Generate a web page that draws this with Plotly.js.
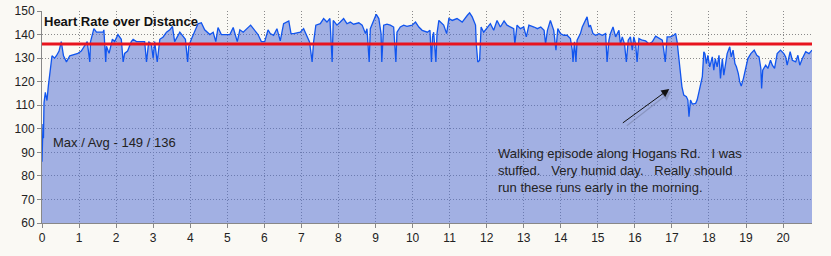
<!DOCTYPE html>
<html>
<head>
<meta charset="utf-8">
<script src="https://cdn.plot.ly/plotly-3.0.1.min.js"></script>
<style>
  html, body { margin: 0; padding: 0; background: #FAF9F4; }
  #chart { width: 831px; height: 256px; }
</style>
</head>
<body>
<div id="chart"></div>
<script>
// Distance (km) and heart rate (bpm)
const dist = [
  0, 0.015, 0.027, 0.04, 0.054, 0.09, 0.135, 0.17, 0.207, 0.27, 0.34, 0.39, 0.46, 0.52, 0.58, 0.66, 0.75, 0.97,
  1.06, 1.15, 1.22, 1.29, 1.31, 1.40, 1.47, 1.65, 1.67, 1.72, 1.74, 1.81, 1.90, 1.96,
  2.05, 2.14, 2.19, 2.23, 2.31, 2.41, 2.46, 2.55, 2.68, 2.77, 2.82, 2.88, 2.95,
  3.00, 3.04, 3.11, 3.18, 3.27, 3.36, 3.45, 3.52, 3.58, 3.72, 3.81, 3.87, 3.93, 3.96,
  4.03, 4.12, 4.21, 4.30, 4.39, 4.53, 4.62, 4.69, 4.75, 4.84, 4.98,
  5.07, 5.16, 5.27, 5.34, 5.43, 5.63, 5.72, 5.83, 5.92,
  6.01, 6.10, 6.16, 6.25, 6.34, 6.43, 6.52, 6.66, 6.72, 6.79, 6.97,
  7.06, 7.15, 7.22, 7.29, 7.33, 7.39, 7.51, 7.60, 7.69, 7.77, 7.81, 7.83, 7.86, 7.96,
  8.05, 8.14, 8.23, 8.32, 8.41, 8.55, 8.64, 8.73, 8.77, 8.80, 8.83, 8.86, 8.95,
  9.02, 9.09, 9.15, 9.17, 9.22, 9.31, 9.40, 9.49, 9.55, 9.58, 9.67, 9.76, 9.85, 9.99,
  10.08, 10.17, 10.26, 10.40, 10.47, 10.51, 10.54, 10.57, 10.63, 10.66, 10.71, 10.84, 10.92, 10.98,
  11.07, 11.20, 11.34, 11.48, 11.54, 11.61, 11.70, 11.72, 11.76, 11.81, 11.85, 11.92,
  12.02, 12.10, 12.19, 12.28, 12.37, 12.47, 12.55, 12.64, 12.73, 12.76, 12.82, 12.91,
  13.00, 13.07, 13.14, 13.28, 13.37, 13.46, 13.55, 13.59, 13.64, 13.72, 13.81, 13.87, 13.92, 13.99,
  14.08, 14.17, 14.26, 14.31, 14.33, 14.37, 14.41, 14.44, 14.53, 14.58, 14.62, 14.68, 14.71, 14.76, 14.80, 14.87, 14.94,
  15.03, 15.12, 15.21, 15.25, 15.30, 15.34, 15.41, 15.48, 15.57, 15.61, 15.66, 15.72, 15.77, 15.82, 15.88, 15.93, 15.97,
  16.02, 16.06, 16.11, 16.20, 16.29, 16.38, 16.47, 16.56, 16.65, 16.74, 16.78, 16.82, 16.87, 16.96,
  17.05, 17.10, 17.14, 17.18, 17.23, 17.27, 17.32, 17.39, 17.43, 17.46, 17.50, 17.55, 17.64, 17.68, 17.73, 17.77, 17.82, 17.86, 17.89, 17.93, 17.97,
  18.02, 18.09, 18.13, 18.17, 18.22, 18.27, 18.31, 18.36, 18.40, 18.45, 18.49, 18.56, 18.60, 18.65, 18.70, 18.74, 18.79, 18.83, 18.87, 18.93, 18.99,
  19.05, 19.13, 19.22, 19.29, 19.35, 19.40, 19.42, 19.45, 19.53, 19.59, 19.66, 19.71, 19.77, 19.84, 19.93,
  20.02, 20.07, 20.11, 20.19, 20.25, 20.34, 20.40, 20.45, 20.52, 20.61, 20.70, 20.78
];
const hr = [
  86, 100, 102, 96, 111, 115.5, 112, 118, 124, 131, 130, 131, 133, 137, 131, 128.4, 131, 132,
  133, 135, 137, 128.4, 137, 142.5, 141, 141, 142, 128.4, 135, 132, 138, 137,
  140, 138, 128.4, 132, 133, 137, 138, 137, 137, 137, 128.4, 137, 136,
  130, 137, 128.4, 138, 139, 141, 142, 143.5, 137, 141, 139, 138, 128.4, 135,
  138, 141, 144.6, 145, 142, 140, 141, 137, 143, 140, 140,
  140, 143, 137, 142, 141, 144, 142, 140, 137,
  137, 142, 140.4, 139.7, 142.5, 137.3, 144.6, 145.8, 140.4, 140.4, 141,
  142.5, 139.7, 136.9, 128.4, 136.9, 144, 144.6, 146.8, 145.3, 146.8, 136, 128.4, 146, 144,
  145.3, 146.8, 144.6, 145.3, 144.4, 145, 144, 140.4, 142.5, 134.8, 128.4, 142.5, 146,
  148.6, 146.8, 140.4, 128.4, 144, 144.4, 144, 143.2, 128.4, 141, 143.2, 144, 143.5, 144,
  145.3, 143.2, 141.8, 141, 141.8, 128.4, 139, 141, 128.4, 140.4, 146, 144, 140.4, 146.8,
  146, 146.8, 145.3, 148.2, 149.2, 147.5, 144, 136, 128.4, 129, 143.2, 141,
  143.2, 144.6, 141.8, 146, 143.2, 145.8, 144, 143.2, 142.5, 136, 144, 142.5,
  143.2, 139, 144, 143.2, 142.5, 143.2, 141.8, 136, 141.8, 146, 141.8, 133.4, 142.5, 140.4,
  139.7, 139.7, 138.3, 133.4, 128.4, 136.9, 128.4, 137.6, 140.4, 143.2, 144.6, 146.8, 147.5, 143.2, 144, 140.4, 139.7,
  140.4, 139.7, 140.4, 128.4, 137.6, 140.4, 143.2, 139, 141.8, 136, 139, 136, 128.4, 137.6, 139, 133.4, 139,
  136, 128.4, 138.3, 137.6, 137.3, 136, 136.9, 139.3, 138.3, 137.6, 133.4, 128.4, 139, 139,
  139.7, 140.4, 136.9, 130.5, 123.5, 117.8, 114.3, 113.6, 112.2, 105.1, 112.2, 110.5, 110.8, 112.2, 115.7, 119.3, 122.1, 132.7, 131.9, 127.7, 131.2,
  126.3, 130.5, 124.9, 129.8, 126.3, 131.2, 121.4, 129.8, 122.8, 129.1, 131.9, 134.8, 130.5, 133.4, 127.7, 126.3, 123.5, 120, 118.1, 121.4, 126.3,
  129.8, 131.9, 133.4, 131.2, 130.5, 125.6, 117.1, 124.9, 127, 125.6, 129.1, 127, 125.6, 131.9, 133.4,
  131.9, 130.5, 127, 132.7, 129.1, 128.4, 131.2, 127, 129.8, 132.7, 131.9, 133.4
];
const maxHR = 149;
const avgHR = 136;
const xRange = [0, 20.78];
const yRange = [60, 150];
const chartTitle = "Heart Rate over Distance";
const statsLabel = "Max / Avg - " + maxHR + " / " + avgHR;
const noteLines = [
  "Walking episode along Hogans Rd.\u00a0\u00a0 I was",
  "stuffed.\u00a0\u00a0 Very humid day.\u00a0\u00a0 Really should",
  "run these runs early in the morning."
];
const arrowTip = { x: 16.93, y: 116.9 };

const font = "Arial, 'Liberation Sans', sans-serif";
const bg = "#FAF9F4";

const trace = {
  x: dist, y: hr, type: "scatter", mode: "lines",
  fill: "tozeroy",
  fillcolor: "rgba(80,110,210,0.52)",
  line: { color: "#1155EE", width: 1.3 },
  hoverinfo: "skip"
};

const axisCommon = {
  showgrid: true, gridcolor: "#8a8a8a", griddash: "1px,2px", gridwidth: 1,
  showline: true, linecolor: "#888888", linewidth: 1,
  ticks: "outside", ticklen: 4, tickcolor: "#888888", tickwidth: 1,
  zeroline: false,
  tickfont: { family: font, size: 12, color: "#222222" },
  fixedrange: true
};

const layout = {
  width: 831, height: 256,
  margin: { l: 42, r: 19, t: 11, b: 33, pad: 0 },
  paper_bgcolor: bg, plot_bgcolor: bg,
  showlegend: false,
  xaxis: Object.assign({}, axisCommon, { range: xRange, tick0: 0, dtick: 1 }),
  yaxis: Object.assign({}, axisCommon, { range: yRange, tick0: 60, dtick: 10 }),
  shapes: [{
    type: "line", xref: "paper", x0: 0, x1: 1, yref: "y", y0: avgHR, y1: avgHR,
    line: { color: "#E8141E", width: 3 }, layer: "above"
  }],
  annotations: [
    { xref: "paper", yref: "paper", x: 0.0, y: 0.951, xanchor: "left", yanchor: "middle",
      text: "<b>" + chartTitle + "</b>", showarrow: false,
      font: { family: font, size: 13, color: "#111111" } },
    { xref: "paper", yref: "paper", x: 0.0113, y: 0.382, xanchor: "left", yanchor: "middle",
      text: statsLabel, showarrow: false,
      font: { family: font, size: 13, color: "#222222" } },
    { xref: "paper", yref: "paper", x: 0.589, y: 0.247, xanchor: "left", yanchor: "middle",
      align: "left", text: noteLines.join("<br>"), showarrow: false,
      font: { family: font, size: 13, color: "#222222" } },
    { x: arrowTip.x, y: arrowTip.y, xref: "x", yref: "y", ax: -46, ay: 36,
      text: "", showarrow: true, arrowhead: 2, arrowsize: 1.6, arrowwidth: 1.2,
      arrowcolor: "rgba(0,0,0,0.15)", standoff: 0, xshift: 2, yshift: -2 },
    { x: arrowTip.x, y: arrowTip.y, xref: "x", yref: "y", ax: -48, ay: 35,
      text: "", showarrow: true, arrowhead: 2, arrowsize: 1.6, arrowwidth: 1,
      arrowcolor: "#111111", standoff: 0 }
  ]
};

Plotly.newPlot("chart", [trace], layout, { displayModeBar: false, staticPlot: true });
</script>
</body>
</html>
